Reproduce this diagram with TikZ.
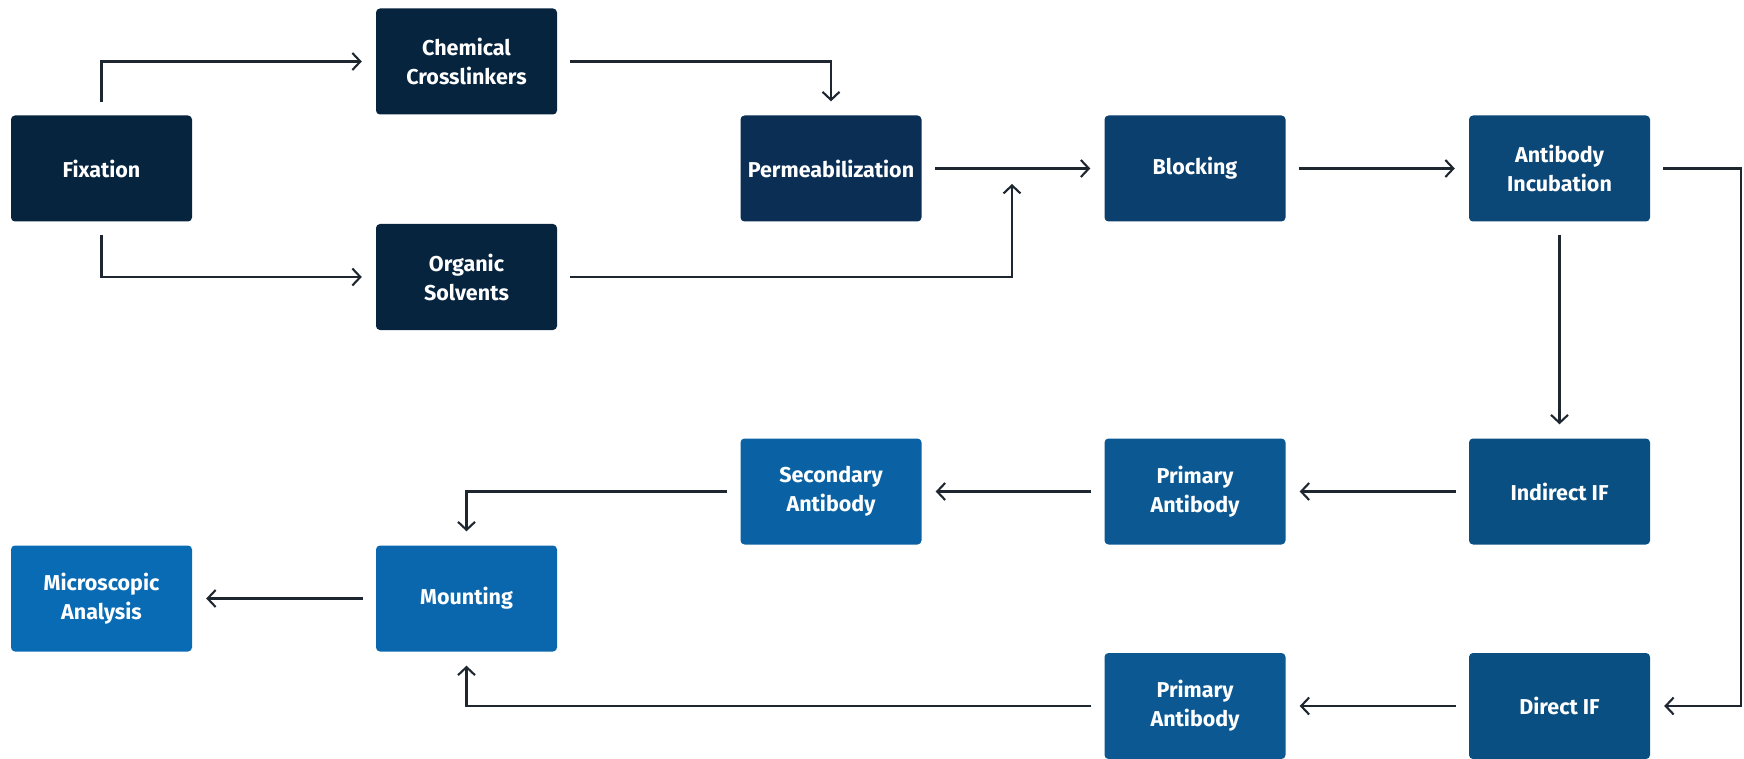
\documentclass[tikz,border=0pt]{standalone}
\usepackage{fontspec}
\setmainfont{Fira Sans}
\usepackage{tikz}
\usetikzlibrary{arrows.meta}
\definecolor{navyA}{HTML}{07243F}
\definecolor{navyB}{HTML}{0B2E55}
\definecolor{blueA}{HTML}{0A3F6E}
\definecolor{blueB}{HTML}{0B4777}
\definecolor{blueC}{HTML}{0A4F82}
\definecolor{blueD}{HTML}{0B5893}
\definecolor{blueE}{HTML}{0A62A4}
\definecolor{blueF}{HTML}{0A67AE}
\definecolor{blueG}{HTML}{0A6BB5}
\definecolor{wire}{HTML}{1E2630}
\tikzset{
    stepbox/.style={rectangle,rounded corners=4pt,minimum width=181pt,minimum height=106pt,
        inner sep=0pt,text=white,align=center,font=\fontsize{21.5}{29}\selectfont\bfseries},
    directed/.style={draw=wire,line width=2.1pt,shorten <=13pt,shorten >=14pt,
        arrows={-Straight Barb[length=8pt,width=17pt,line width=2.1pt]}},
    }

\begin{document}
\begin{tikzpicture}[x=1pt,y=-1pt]
	\useasboundingbox (0,0) rectangle (1744,759);
	
		\node[stepbox,fill=navyA] (fix) at (101.5,168.5) {Fixation};
		
		\node[stepbox,fill=navyA] (chem) at (466.5,61.5) {Chemical\\Crosslinkers};
		\node[stepbox,fill=navyA] (org) at (466.5,277) {Organic\\Solvents};
		
		\node[stepbox,fill=navyB] (perm) at (831,168.5) {Permeabilization};
		\node[stepbox,fill=blueA] (block) at (1195,168.5) {Blocking};
		\node[stepbox,fill=blueB] (inc) at (1559.5,168.5) {Antibody\\Incubation};
		
		\node[stepbox,fill=blueC] (indir) at (1559.5,491.5) {Indirect IF};
		\node[stepbox,fill=blueD] (primA) at (1195,491.5) {Primary\\Antibody};
		\node[stepbox,fill=blueE] (sec) at (831,491.5) {Secondary\\Antibody};
		
		\node[stepbox,fill=blueF] (mount) at (466.5,598.5) {Mounting};
		\node[stepbox,fill=blueG] (micro) at (101.5,598.5) {Microscopic\\Analysis};
		
		\node[stepbox,fill=blueC] (dir) at (1559.5,706) {Direct IF};
		\node[stepbox,fill=blueD] (primB) at (1195,706) {Primary\\Antibody};
		
		\coordinate (join) at (1012,170);
		\coordinate (rgt) at (1741,0);
	
	
	\draw[directed] (fix.north) |- (chem.west);
	\draw[directed] (fix.south) |- (org.west);
	
	\draw[directed] (chem.east) -| (perm.north);
	\draw[directed] (org.east) -| (join);
	
	\draw[directed] (perm.east) -- (block.west);
	\draw[directed] (block.east) -- (inc.west);
	
	\draw[directed] (inc.south) -- (indir.north);
	\draw[directed] (inc.east) -- (inc.east -| rgt) |- (dir.east);
	
	\draw[directed] (indir.west) -- (primA.east);
	\draw[directed] (primA.west) -- (sec.east);
	\draw[directed] (sec.west) -| (mount.north);
	
	\draw[directed] (dir.west) -- (primB.east);
	\draw[directed] (primB.west) -| (mount.south);
	
	\draw[directed] (mount.west) -- (micro.east);
    \end{tikzpicture}
\end{document}
